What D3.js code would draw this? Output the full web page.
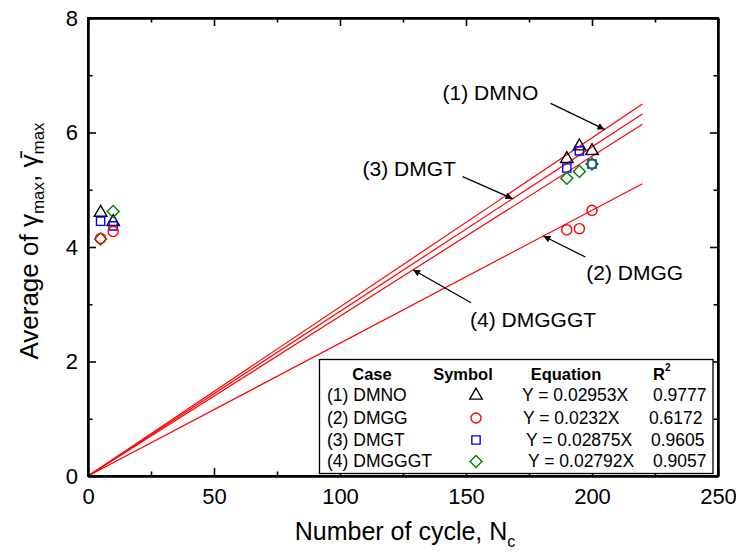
<!DOCTYPE html>
<html>
<head>
<meta charset="utf-8">
<script src="https://cdn.jsdelivr.net/npm/d3@7"></script>
<style>
  html, body { margin: 0; padding: 0; background: #fff; }
  svg { display: block; font-family: "Liberation Sans", Arial, Helvetica, sans-serif; }
</style>
</head>
<body>
<svg id="chart" width="736" height="552"></svg>
<script>
// ---- data ----
const cases = ["(1) DMNO", "(2) DMGG", "(3) DMGT", "(4) DMGGGT"];
const slopes = [0.02953, 0.0232, 0.02875, 0.02792];
const equations = ["Y = 0.02953X", "Y = 0.0232X", "Y = 0.02875X", "Y = 0.02792X"];
const rSquared = ["0.9777", "0.6172", "0.9605", "0.9057"];
const cycles = [5, 10, 190, 195, 200];
const dmno = [4.60, 4.44, 5.54, 5.76, 5.68];
const dmgg = [4.15, 4.27, 4.30, 4.32, 4.64];
const dmgt = [4.45, 4.37, 5.38, 5.68, 5.45];
const dmgggt = [4.14, 4.62, 5.20, 5.32, 5.45];
const fitRange = [0, 220];
const xTicks = [0, 50, 100, 150, 200, 250];
const yTicks = [0, 2, 4, 6, 8];

// ---- layout ----
const W = 736, H = 552;
const m = { left: 88, right: 18, top: 18, bottom: 76 };
const svg = d3.select("#chart");
const x = d3.scaleLinear().domain([0, 250]).range([m.left, W - m.right]);
const y = d3.scaleLinear().domain([0, 8]).range([H - m.bottom, m.top]);

const seriesVals = [dmno, dmgg, dmgt, dmgggt];
// diamond = square turned by 45 degrees
const symbols = [
  { type: d3.symbolTriangle, size: 68, rot: 0, color: "#000000" },
  { type: d3.symbolCircle, size: 80, rot: 0, color: "#ff0000" },
  { type: d3.symbolSquare, size: 68, rot: 0, color: "#0000ff" },
  { type: d3.symbolSquare, size: 72, rot: 45, color: "#008000" }
];

// ---- fitted lines through the origin ----
svg.append("g").selectAll("line").data(slopes).join("line")
  .attr("x1", x(fitRange[0])).attr("y1", d => y(d * fitRange[0]))
  .attr("x2", x(fitRange[1])).attr("y2", d => y(d * fitRange[1]))
  .attr("stroke", "#ff0000").attr("stroke-width", 1.2);

// ---- markers (triangles, squares, diamonds, then circles on top) ----
const drawOrder = [0, 2, 3, 1];
drawOrder.forEach(si => {
  const s = symbols[si];
  svg.append("g").selectAll("path").data(seriesVals[si]).join("path")
    .attr("transform", (d, i) => `translate(${x(cycles[i])},${y(d)}) rotate(${s.rot})`)
    .attr("d", d3.symbol().type(s.type).size(s.size)())
    .attr("fill", "none").attr("stroke", s.color).attr("stroke-width", 1.4);
});

// ---- axes with inward ticks on all four sides ----
const tickFont = 22;
function styleAxis(g) {
  g.selectAll(".domain").attr("stroke", "#000").attr("stroke-width", 2);
  g.selectAll(".tick line").attr("stroke", "#000").attr("stroke-width", 1.6);
  g.selectAll(".tick text").attr("font-size", tickFont).attr("fill", "#000")
    .attr("font-family", "Liberation Sans, Arial, sans-serif");
}
const xMinor = d3.range(25, 250, 50);
const yMinor = d3.range(1, 8, 2);

svg.append("g").attr("transform", `translate(0,${y(0)})`)
  .call(d3.axisBottom(x).tickValues(xTicks).tickSizeInner(-8).tickSizeOuter(0).tickPadding(12))
  .call(styleAxis);
svg.append("g").attr("transform", `translate(0,${y(0)})`)
  .call(d3.axisBottom(x).tickValues(xMinor).tickSizeInner(-4.5).tickSizeOuter(0).tickFormat(""))
  .call(styleAxis);
svg.append("g").attr("transform", `translate(0,${y(8)})`)
  .call(d3.axisTop(x).tickValues(xTicks).tickSizeInner(-8).tickSizeOuter(0).tickFormat(""))
  .call(styleAxis);
svg.append("g").attr("transform", `translate(0,${y(8)})`)
  .call(d3.axisTop(x).tickValues(xMinor).tickSizeInner(-4.5).tickSizeOuter(0).tickFormat(""))
  .call(styleAxis);
svg.append("g").attr("transform", `translate(${x(0)},0)`)
  .call(d3.axisLeft(y).tickValues(yTicks).tickSizeInner(-8).tickSizeOuter(0).tickPadding(10))
  .call(styleAxis);
svg.append("g").attr("transform", `translate(${x(0)},0)`)
  .call(d3.axisLeft(y).tickValues(yMinor).tickSizeInner(-4.5).tickSizeOuter(0).tickFormat(""))
  .call(styleAxis);
svg.append("g").attr("transform", `translate(${x(250)},0)`)
  .call(d3.axisRight(y).tickValues(yTicks).tickSizeInner(-8).tickSizeOuter(0).tickFormat(""))
  .call(styleAxis);
svg.append("g").attr("transform", `translate(${x(250)},0)`)
  .call(d3.axisRight(y).tickValues(yMinor).tickSizeInner(-4.5).tickSizeOuter(0).tickFormat(""))
  .call(styleAxis);
// square corners
svg.append("rect").attr("x", x(0)).attr("y", y(8)).attr("width", x(250) - x(0)).attr("height", y(0) - y(8))
  .attr("fill", "none").attr("stroke", "#000").attr("stroke-width", 2);

// ---- axis titles ----
const xt = svg.append("text").attr("x", (x(0) + x(250)) / 2 + 2).attr("y", 540)
  .attr("text-anchor", "middle").attr("font-size", 25).attr("fill", "#000");
xt.append("tspan").text("Number of cycle, N");
xt.append("tspan").attr("font-size", 16).attr("dy", 7).text("c");

const yt = svg.append("text")
  .attr("transform", `translate(38,241) rotate(-90)`)
  .attr("text-anchor", "middle").attr("font-size", 26).attr("fill", "#000");
yt.append("tspan").text("Average of γ");
yt.append("tspan").attr("font-size", 17).attr("dy", 6).text("max");
yt.append("tspan").attr("dy", -6).text(", ");
yt.append("tspan").text("γ\u0304");
yt.append("tspan").attr("font-size", 17).attr("dy", 6).text("max");

// ---- callouts pointing at each fitted line ----
const defs = svg.append("defs");
defs.append("marker").attr("id", "arrow").attr("viewBox", "0 0 10 10")
  .attr("refX", 10).attr("refY", 5).attr("markerWidth", 11).attr("markerHeight", 7)
  .attr("markerUnits", "userSpaceOnUse").attr("orient", "auto")
  .append("path").attr("d", "M0,0 L10,5 L0,10 Z").attr("fill", "#000");

const callouts = [
  { series: 0, at: 205, tail: [-54, -26], label: [-162, -29] },
  { series: 2, at: 168.5, tail: [-50, -22], label: [-150, -23] },
  { series: 3, at: 129, tail: [58, 33], label: [57, 57] },
  { series: 1, at: 180.7, tail: [42, 21], label: [43, 44] }
];
callouts.forEach(c => {
  const tx = x(c.at), ty = y(slopes[c.series] * c.at);
  svg.append("line")
    .attr("x1", tx + c.tail[0]).attr("y1", ty + c.tail[1])
    .attr("x2", tx).attr("y2", ty)
    .attr("stroke", "#000").attr("stroke-width", 1.3).attr("marker-end", "url(#arrow)");
  svg.append("text").attr("x", tx + c.label[0]).attr("y", ty + c.label[1])
    .attr("font-size", 21).attr("fill", "#000").text(cases[c.series]);
});

// ---- legend table ----
const lg = { x0: 319.5, y0: 359.5, x1: 713, y1: 473.5 };
svg.append("rect").attr("x", lg.x0).attr("y", lg.y0)
  .attr("width", lg.x1 - lg.x0).attr("height", lg.y1 - lg.y0)
  .attr("fill", "#fff").attr("stroke", "#000").attr("stroke-width", 1.3);

const hdrY = 380;
const hdr = svg.append("g").attr("font-size", 16.5).attr("font-weight", "bold").attr("fill", "#000");
hdr.append("text").attr("x", 372).attr("y", hdrY).attr("text-anchor", "middle").text("Case");
hdr.append("text").attr("x", 463).attr("y", hdrY).attr("text-anchor", "middle").text("Symbol");
hdr.append("text").attr("x", 566).attr("y", hdrY).attr("text-anchor", "middle").text("Equation");
const rh = hdr.append("text").attr("x", 653).attr("y", hdrY);
rh.append("tspan").text("R");
rh.append("tspan").attr("font-size", 10).attr("dy", -9).text("2");

const rowY = [401, 423.5, 445.5, 467];
const eqX = [522, 523, 526, 528];
const r2X = [653, 649, 651, 653];
const rows = svg.append("g").attr("font-size", 17.5).attr("fill", "#000");
cases.forEach((c, i) => {
  rows.append("text").attr("x", 327).attr("y", rowY[i]).text(c);
  rows.append("text").attr("x", eqX[i]).attr("y", rowY[i]).text(equations[i]);
  rows.append("text").attr("x", r2X[i]).attr("y", rowY[i]).text(rSquared[i]);
  const s = symbols[i];
  svg.append("path").attr("transform", `translate(476,${rowY[i] - 5.5}) rotate(${s.rot})`)
    .attr("d", d3.symbol().type(s.type).size(s.size)())
    .attr("fill", "none").attr("stroke", s.color).attr("stroke-width", 1.4);
});
</script>
</body>
</html>
